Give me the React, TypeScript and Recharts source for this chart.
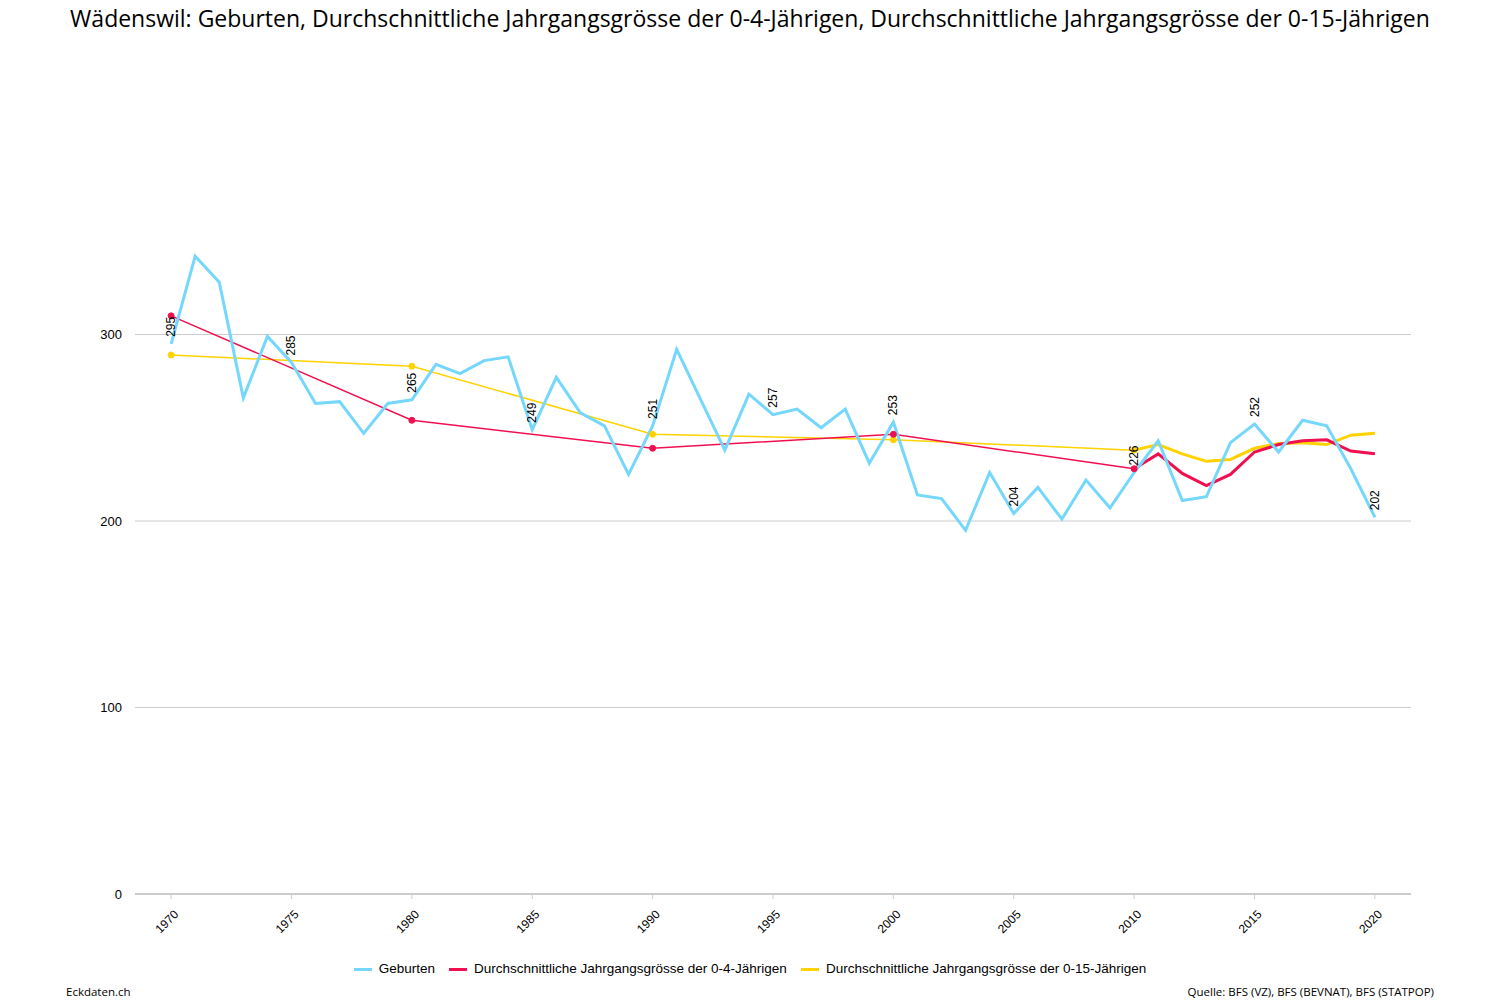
import React from 'react';
import { LineChart, Line, XAxis, YAxis, CartesianGrid, LabelList } from 'recharts';

const years = [
  1970, 1971, 1972, 1973, 1974, 1975, 1976, 1977, 1978, 1979,
  1980, 1981, 1982, 1983, 1984, 1985, 1986, 1987, 1988, 1989,
  1990, 1991, 1992, 1993, 1994, 1995, 1996, 1997, 1998, 1999,
  2000, 2001, 2002, 2003, 2004, 2005, 2006, 2007, 2008, 2009,
  2010, 2011, 2012, 2013, 2014, 2015, 2016, 2017, 2018, 2019, 2020,
];
const geburten = [
  295, 342, 328, 266, 299, 285, 263, 264, 247, 263,
  265, 284, 279, 286, 288, 249, 277, 258, 251, 225,
  251, 292, 265, 238, 268, 257, 260, 250, 260, 231,
  253, 214, 212, 195, 226, 204, 218, 201, 222, 207,
  226, 243, 211, 213, 242, 252, 237, 254, 251, 228, 202,
];

// census years (before yearly STATPOP data)
const decadeYears = [1970, 1980, 1990, 2000, 2010];
const jg04Decades = [310, 254, 239, 246.5, 228];
const jg015Decades = [289, 283, 246.5, 243.5, 238];

const recentYears = [2010, 2011, 2012, 2013, 2014, 2015, 2016, 2017, 2018, 2019, 2020];
const jg04Recent = [228, 236, 225.5, 219, 225, 237, 241, 243, 243.5, 237.5, 236];
const jg015Recent = [238, 241, 236, 232, 233, 239, 241.5, 242, 241, 246, 247];

const xTicks = [1970, 1975, 1980, 1985, 1990, 1995, 2000, 2005, 2010, 2015, 2020];
const yTicks = [0, 100, 200, 300];
const gridValues = [100, 200, 300];

const BLUE = '#74d7fb';
const RED = '#f0104f';
const YELLOW = '#ffd200';

const birthData = years.map((year, i) => ({ year, value: geburten[i] }));
const jg04Old = decadeYears.map((year, i) => ({ year, value: jg04Decades[i] }));
const jg015Old = decadeYears.map((year, i) => ({ year, value: jg015Decades[i] }));
const jg04New = recentYears.map((year, i) => ({ year, value: jg04Recent[i] }));
const jg015New = recentYears.map((year, i) => ({ year, value: jg015Recent[i] }));

const legendItems = [
  { name: 'Geburten', color: BLUE },
  { name: 'Durchschnittliche Jahrgangsgrösse der 0-4-Jährigen', color: RED },
  { name: 'Durchschnittliche Jahrgangsgrösse der 0-15-Jährigen', color: YELLOW },
];

const XTick = (props: any) => {
  const { x, y, payload } = props;
  const ax = x + 8;
  const ay = y + 21;
  return (
    <g>
      <line x1={x} y1={y} x2={x} y2={y + 5} stroke="#ccc" />
      <text
        x={ax}
        y={ay}
        textAnchor="end"
        fontSize={12}
        fontFamily="Liberation Sans, Arial, sans-serif"
        fill="#000"
        transform={`rotate(-45, ${ax}, ${ay})`}
      >
        {payload.value}
      </text>
    </g>
  );
};

const BirthLabel = (props: any) => {
  const { x, y, value, index } = props;
  if (years[index] % 5 !== 0) return null;
  const lx = x + 4;
  const ly = y - 7;
  return (
    <text
      x={lx}
      y={ly}
      fontSize={12}
      fontFamily="Liberation Sans, Arial, sans-serif"
      fill="#000"
      textAnchor="start"
      transform={`rotate(-90, ${lx}, ${ly})`}
    >
      {value}
    </text>
  );
};

export default function App() {
  return (
    <div style={{ position: 'absolute', left: 0, top: 0, width: 1500, height: 1000, background: '#fff' }}>
      <div
        style={{
          position: 'absolute', top: 3, left: 0, width: 1500, textAlign: 'center',
          fontFamily: '"Open Sans", Lato, sans-serif', fontSize: 23, color: '#000', lineHeight: '30px',
        }}
      >
        Wädenswil: Geburten, Durchschnittliche Jahrgangsgrösse der 0-4-Jährigen, Durchschnittliche Jahrgangsgrösse der 0-15-Jährigen
      </div>

      <LineChart width={1500} height={1000} margin={{ top: 148, right: 89, bottom: 46, left: 0 }}>
        <CartesianGrid vertical={false} stroke="#cccccc" horizontalValues={gridValues} />
        <XAxis
          type="number"
          dataKey="year"
          domain={[1968.5, 2021.5]}
          ticks={xTicks}
          allowDataOverflow
          height={60}
          axisLine={{ stroke: '#cccccc', strokeWidth: 2 }}
          tickLine={false}
          tick={<XTick />}
          tickMargin={0}
          tickSize={0}
        />
        <YAxis
          type="number"
          domain={[0, 400]}
          ticks={yTicks}
          width={135}
          axisLine={false}
          tickLine={false}
          tickMargin={7}
          tick={{ fontSize: 13, fill: '#000', fontFamily: 'Liberation Sans, Arial, sans-serif' }}
        />
        <Line
          data={jg015Old}
          dataKey="value"
          type="linear"
          stroke={YELLOW}
          strokeWidth={1.5}
          dot={{ r: 3, fill: YELLOW, stroke: YELLOW, strokeWidth: 1 }}
          isAnimationActive={false}
        />
        <Line
          data={jg015New}
          dataKey="value"
          type="linear"
          stroke={YELLOW}
          strokeWidth={3}
          dot={false}
          isAnimationActive={false}
        />
        <Line
          data={jg04Old}
          dataKey="value"
          type="linear"
          stroke={RED}
          strokeWidth={1.5}
          dot={{ r: 3, fill: RED, stroke: RED, strokeWidth: 1 }}
          isAnimationActive={false}
        />
        <Line
          data={jg04New}
          dataKey="value"
          type="linear"
          stroke={RED}
          strokeWidth={3}
          dot={false}
          isAnimationActive={false}
        />
        <Line
          data={birthData}
          dataKey="value"
          type="linear"
          stroke={BLUE}
          strokeWidth={3}
          dot={false}
          isAnimationActive={false}
        >
          <LabelList dataKey="value" content={<BirthLabel />} />
        </Line>
      </LineChart>

      <div
        style={{
          position: 'absolute', top: 961, left: 0, width: 1500, display: 'flex', justifyContent: 'center',
          fontFamily: 'Liberation Sans, Arial, sans-serif', fontSize: 13.5, color: '#000', lineHeight: '16px',
        }}
      >
        {legendItems.map((item) => (
          <div key={item.name} style={{ display: 'flex', alignItems: 'center', margin: '0 7px' }}>
            <span style={{ display: 'inline-block', width: 18, height: 3, background: item.color, marginRight: 7 }} />
            <span>{item.name}</span>
          </div>
        ))}
      </div>

      <div style={{ position: 'absolute', left: 66, top: 984, fontFamily: '"Open Sans", Lato, sans-serif', fontSize: 11.5, color: '#000' }}>
        Eckdaten.ch
      </div>
      <div style={{ position: 'absolute', right: 66, top: 984, fontFamily: '"Open Sans", Lato, sans-serif', fontSize: 11.5, color: '#000' }}>
        Quelle: BFS (VZ), BFS (BEVNAT), BFS (STATPOP)
      </div>
    </div>
  );
}
